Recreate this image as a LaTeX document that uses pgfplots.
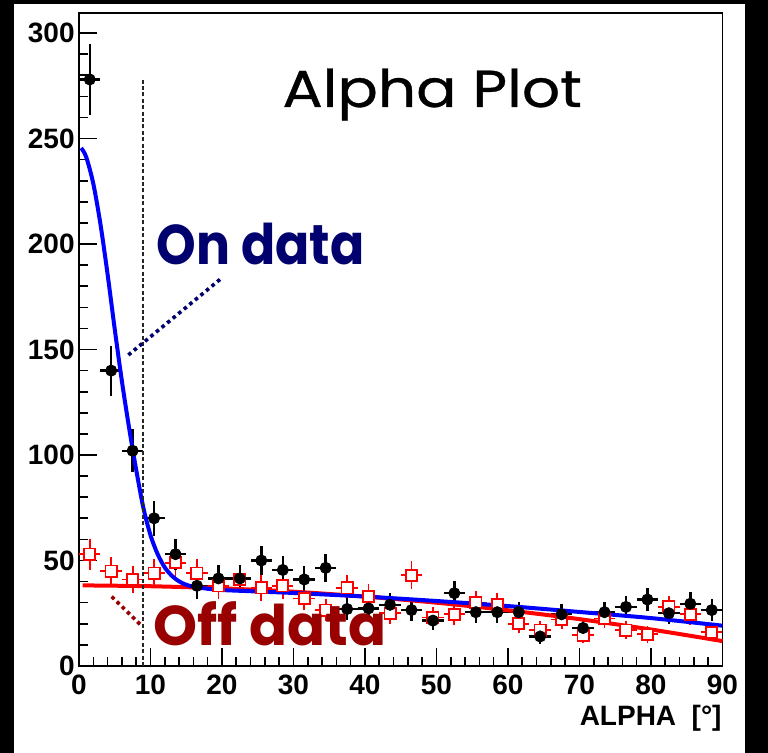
\documentclass[border=0pt]{standalone}
\usepackage{fontspec}
\setmainfont{Liberation Sans}
\newfontfamily\comic{Poppins}[FakeBold=0.6]
\newfontfamily\comicb{Poppins}
\usepackage{pgfplots}
\pgfplotsset{compat=1.18}
\usepackage{pgfplotstable}
\definecolor{navy}{RGB}{0,0,110}
\definecolor{dred}{RGB}{153,0,0}

\pgfplotstableread{
x y ey
1.5 278 16.7
4.5 140 11.8
7.5 102 10.1
10.5 70 8.4
13.5 53 7.3
16.5 38 6.2
19.5 41.5 6.4
22.5 41.5 6.4
25.5 50 7.1
28.5 45.5 6.7
31.5 41 6.4
34.5 46.5 6.8
37.5 27 5.2
40.5 27.3 5.2
43.5 29 5.4
46.5 26.5 5.1
49.5 21.5 4.6
52.5 34.5 5.9
55.5 25.5 5.0
58.5 25.5 5.0
61.5 25.5 5.0
64.5 14 3.7
67.5 24.5 4.9
70.5 18 4.2
73.5 25.5 5.0
76.5 28 5.3
79.5 31.5 5.6
82.5 25 5.0
85.5 29.5 5.4
88.5 26.5 5.1
}\ondata

\pgfplotstableread{
x y ey
1.5 53 7.3
4.5 45 6.7
7.5 41 6.4
10.5 44 6.6
13.5 49 7.0
16.5 44 6.6
19.5 38 6.2
22.5 41 6.4
25.5 37 6.1
28.5 38 6.2
31.5 32 5.7
34.5 26.5 5.1
37.5 37 6.1
40.5 33 5.7
43.5 25 5.0
46.5 43 6.6
49.5 23 4.8
52.5 24.5 4.9
55.5 30 5.5
58.5 29 5.4
61.5 20 4.5
64.5 17 4.1
67.5 22 4.7
70.5 14.5 3.8
73.5 22.5 4.7
76.5 17 4.1
79.5 15 3.9
82.5 28 5.3
85.5 24.5 4.9
88.5 16 4.0
}\offdata

\begin{document}
\begin{tikzpicture}
% background frame (screenshot border)
\fill[black] (-39.5pt,-43.5pt) rectangle (344.5pt,333pt);
\fill[white] (-32.5pt,-43.5pt) rectangle (333pt,331pt);
\begin{axis}[
  at={(0pt,0pt)}, anchor=south west,
  scale only axis, width=321.75pt, height=326.5pt,
  xmin=0, xmax=90, ymin=0, ymax=309.5,
  xtick={0,10,...,90}, ytick={0,50,...,300},
  minor tick num=4,
  tick align=inside, tick pos=left,
  major tick length=9pt, minor tick length=4.5pt,
  every tick/.style={black, line width=0.8pt},
  axis line style={line width=0.9pt},
  ticklabel style={font=\fontsize{14}{14}\selectfont\bfseries},
  /pgf/number format/assume math mode=true,
  yticklabel style={inner sep=1pt, xshift=-1pt},
  xticklabel style={inner sep=1pt, yshift=-3.5pt},
  clip=false,
]
\addplot[only marks, draw=red, mark=square*, mark size=2.8pt,
  mark options={fill=white, draw=red, line width=0.9pt},
  error bars/.cd, x dir=both, x fixed=1.5, y dir=both, y explicit,
  error bar style={red, line width=0.9pt}, error mark=none]
  table[x=x, y=y, y error=ey] {\offdata};
\addplot[only marks, black, mark=*, mark size=2.8pt,
  error bars/.cd, x dir=both, x fixed=1.5, y dir=both, y explicit,
  error bar style={black, line width=1.2pt}, error mark=none]
  table[x=x, y=y, y error=ey] {\ondata};
% fitted curves
\addplot[red, line width=2pt, smooth] coordinates {
(0.5,38.2) (10,37.8) (20,36.8) (30,35.2) (40,32.9) (50,30.0)
(60,26.4) (70,22.2) (80,17.3) (90,11.8)};
\addplot[blue, line width=2pt, smooth] coordinates {
(0.3,245.5) (1,241.3) (2,228.6) (3,209.4) (4,185.6) (5,159.6) (6,135)
(7,113) (8,93) (9,75) (10,62) (11,53) (12,46.7) (13,42.7) (14,40.1)
(15,38.5) (16,37.6) (18,36.6) (20,36.0) (25,35.3) (30,34.6) (40,32.9)
(50,30.8) (60,28.4) (70,25.6) (80,22.7) (90,19.1)};
\draw[black!85, line width=1pt, dash pattern=on 2pt off 1.2pt] (axis cs:9,0) -- (axis cs:9,278);
\draw[navy, line width=1.8pt, dash pattern=on 1.8pt off 1.8pt] (axis cs:6.9,147.4) -- (axis cs:20.0,184.0);
\draw[dred, line width=1.8pt, dash pattern=on 1.8pt off 1.8pt] (axis cs:4.57,32.9) -- (axis cs:8.77,19.0);
\end{axis}
\node[anchor=base west, inner sep=0pt, xscale=1.15, font=\comic\fontsize{26}{26}\selectfont] at (101.5pt,279.5pt) {Alpha Plot};
\node[anchor=base west, inner sep=0pt, xscale=0.9, text=navy, font=\comicb\bfseries\fontsize{28}{28}\selectfont] at (38.8pt,200.5pt) {On data};
\node[anchor=base west, inner sep=0pt, xscale=1.0, text=dred, font=\comicb\bfseries\fontsize{28}{28}\selectfont] at (37pt,10pt) {Off data};
\node[anchor=base east, inner sep=0pt, font=\fontsize{14}{14}\selectfont\bfseries] at (321.5pt,-30pt) {ALPHA\ \ [°]};
\end{tikzpicture}
\end{document}
